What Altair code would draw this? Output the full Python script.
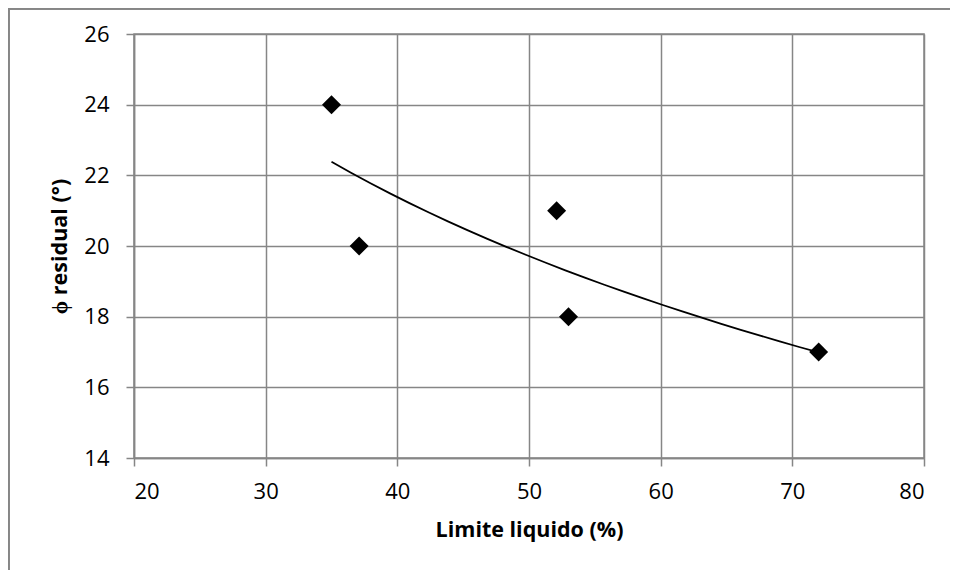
import altair as alt
import pandas as pd

limite_liquido = [35.0, 37.1, 52.1, 53.0, 72.0]
phi_residual = [24.0, 20.0, 21.0, 18.0, 17.0]

df = pd.DataFrame({"x": limite_liquido, "y": phi_residual})

FONT = "Open Sans"
GRAY = "#868686"

base = alt.Chart(df)

xscale = alt.Scale(domain=[20, 80], nice=False, zero=False)
yscale = alt.Scale(domain=[14, 26], nice=False, zero=False)

xenc = alt.X("x:Q", scale=xscale,
             axis=alt.Axis(values=[20, 30, 40, 50, 60, 70, 80], title="Limite liquido (%)",
                           labelPadding=15, titlePadding=17))
yenc = alt.Y("y:Q", scale=yscale,
             axis=alt.Axis(values=[14, 16, 18, 20, 22, 24, 26], title="ϕ residual (°)",
                           labelPadding=17, titlePadding=12))

points = base.mark_point(shape="diamond", filled=True, color="black", size=360, opacity=1).encode(
    x=xenc, y=yenc)

trend = base.transform_regression("x", "y", method="log").mark_line(
    color="black", strokeWidth=1.8).encode(x=xenc, y=yenc)

frame_left = base.mark_rule(color=GRAY, strokeWidth=1.5).encode(
    x=alt.value(-125.25), y=alt.value(-25.25), y2=alt.value(540))
frame_top = base.mark_rule(color=GRAY, strokeWidth=1.5).encode(
    x=alt.value(-126), x2=alt.value(820), y=alt.value(-25.25))

chart = alt.layer(trend, points, frame_left, frame_top).properties(
    width=790, height=424,
    autosize=alt.AutoSizeParams(type="none"),
    padding={"left": 126, "top": 26, "right": 26, "bottom": 112},
).configure_view(stroke=GRAY, strokeWidth=1.5).configure_axis(
    gridColor=GRAY, gridWidth=1.5, domainColor=GRAY, domainWidth=1.5,
    tickColor=GRAY, tickWidth=1.5, tickSize=8,
    labelFont=FONT, labelFontSize=22, labelColor="black",
    titleFont=FONT, titleFontSize=21.5, titleFontWeight="bold", titleColor="black",
)

chart.save("out.html", embed_options={"renderer": "svg", "actions": False})
